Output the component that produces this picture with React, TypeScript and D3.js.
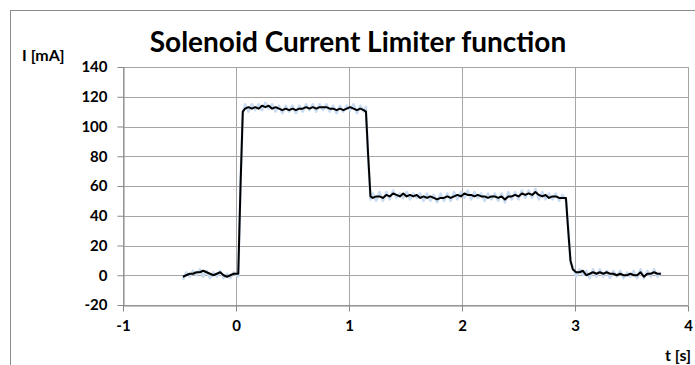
import React, { useEffect, useRef } from 'react';
import * as d3 from 'd3';

// time axis (s), filtered (black) and raw (light blue) current in mA
const times = [
  -0.47, -0.44, -0.41, -0.38, -0.35, -0.32, -0.29, -0.26, -0.23, -0.2, -0.17, -0.14, -0.11, -0.08, -0.05, -0.02, 0.02,
  0.04, 0.06, 0.08,
  0.11, 0.14, 0.17, 0.2, 0.23, 0.26, 0.29, 0.32, 0.35, 0.38, 0.41, 0.44, 0.47, 0.5, 0.53, 0.56, 0.59, 0.62, 0.65, 0.68,
  0.71, 0.74, 0.77, 0.8, 0.83, 0.86, 0.89, 0.92, 0.95, 0.98, 1.01, 1.04, 1.07, 1.1, 1.13, 1.15,
  1.17, 1.19,
  1.21, 1.24, 1.27, 1.3, 1.33, 1.36, 1.39, 1.42, 1.45, 1.48, 1.51, 1.54, 1.57, 1.6, 1.63, 1.66, 1.69, 1.72, 1.75, 1.78,
  1.81, 1.84, 1.87, 1.9, 1.93, 1.96, 1.99, 2.02, 2.05, 2.08, 2.11, 2.14, 2.17, 2.2, 2.23, 2.26, 2.29, 2.32, 2.35, 2.38,
  2.41, 2.44, 2.47, 2.5, 2.53, 2.56, 2.59, 2.62, 2.65, 2.68, 2.71, 2.74, 2.77, 2.8, 2.83, 2.86, 2.89, 2.92,
  2.94, 2.96, 2.98,
  3.01, 3.04, 3.07, 3.1, 3.13, 3.16, 3.19, 3.22, 3.25, 3.28, 3.31, 3.34, 3.37, 3.4, 3.43, 3.46, 3.49, 3.52, 3.55, 3.58,
  3.61, 3.64, 3.67, 3.7, 3.73, 3.76
];

const filtered = [
  -1, 0, 1, 1, 2, 2, 3, 2, 1, 0, 1, 2, 0, -1, 0, 1, 1,
  60, 110, 112,
  113, 112, 113, 112, 114, 113, 114, 112, 113, 112, 111, 112, 111, 112, 111, 112, 112, 113, 112, 113,
  112, 113, 113, 113, 112, 112, 111, 112, 111, 112, 113, 112, 111, 112, 111, 110,
  80, 53,
  52, 53, 53, 52, 54, 53, 55, 54, 53, 55, 53, 54, 53, 54, 52, 53, 52, 53, 52, 51,
  52, 52, 53, 52, 53, 54, 53, 55, 54, 54, 53, 54, 53, 53, 52, 53, 53, 52, 53, 51,
  53, 53, 54, 53, 55, 54, 55, 54, 56, 54, 53, 54, 52, 53, 53, 52, 52, 52,
  30, 10, 4,
  2, 2, 3, 0, 1, 2, 1, 2, 1, 2, 1, 1, 0, 1, 0, 0, 1, 0, 0, 2,
  -1, 1, 1, 2, 1, 1
];

const raw = [
  -3, 2, -1, 3, 0, 4, -1, 3, -2, 2, -1, 3, -2, 1, -2, 2, -1,
  62, 108, 115,
  110, 115, 111, 115, 111, 116, 112, 115, 110, 114, 109, 114, 110, 114, 109, 114, 110, 115, 111, 115,
  110, 115, 111, 115, 110, 114, 109, 114, 110, 114, 111, 115, 109, 114, 110, 113,
  78, 51,
  55, 50, 56, 50, 56, 51, 57, 52, 55, 52, 56, 51, 55, 52, 55, 50, 55, 50, 54, 49,
  55, 50, 55, 50, 56, 51, 56, 52, 57, 51, 56, 52, 55, 50, 55, 51, 55, 50, 55, 49,
  56, 51, 56, 51, 57, 52, 57, 52, 58, 51, 56, 51, 55, 51, 55, 50, 54, 50,
  32, 8, 6,
  -1, 4, 0, 3, -2, 4, -1, 4, -1, 3, -2, 3, -1, 3, -2, 2, -1, 3, -2, 4,
  -2, 3, -1, 4, -1, 2
];

const xTicks = [-1, 0, 1, 2, 3, 4];
const yTicks = [-20, 0, 20, 40, 60, 80, 100, 120, 140];

const W = 695, H = 365;
const left = 123, right = 688, top = 67, bottom = 305;
const font = 'Lato, "Open Sans", sans-serif';

export default function App() {
  const ref = useRef<SVGSVGElement>(null);

  useEffect(() => {
    document.body.style.margin = '0';
    const svg = d3.select(ref.current);
    svg.selectAll('*').remove();

    const x = d3.scaleLinear().domain([-1, 4]).range([left, right]);
    const y = d3.scaleLinear().domain([-20, 140]).range([bottom, top]);

    svg.append('rect').attr('width', W).attr('height', H).attr('fill', '#fff');
    // chart frame (runs off the picture to the right and bottom)
    svg.append('rect')
      .attr('x', 10.5).attr('y', 10.5).attr('width', 720).attr('height', 400)
      .attr('fill', 'none').attr('stroke', '#8c8c8c').attr('stroke-width', 1);

    // gridlines
    svg.append('g').selectAll('line').data(yTicks).enter().append('line')
      .attr('x1', left).attr('x2', right)
      .attr('y1', d => Math.round(y(d)) + 0.5).attr('y2', d => Math.round(y(d)) + 0.5)
      .attr('stroke', '#a6a6a6');
    svg.append('g').selectAll('line').data(xTicks).enter().append('line')
      .attr('y1', top).attr('y2', bottom)
      .attr('x1', d => Math.round(x(d)) + 0.5).attr('x2', d => Math.round(x(d)) + 0.5)
      .attr('stroke', '#a6a6a6');

    // axes
    const yAxis = svg.append('g')
      .attr('transform', `translate(${left + 0.5},0)`)
      .call(d3.axisLeft(y).tickValues(yTicks).tickSize(6).tickPadding(10).tickSizeOuter(0)
        .tickFormat(d => String(d)));
    const xAxis = svg.append('g')
      .attr('transform', `translate(0,${Math.round(bottom) + 0.5})`)
      .call(d3.axisBottom(x).tickValues(xTicks).tickSize(6).tickPadding(9).tickSizeOuter(0)
        .tickFormat(d => String(d)));
    [yAxis, xAxis].forEach(a => {
      a.selectAll('path,line').attr('stroke', '#868686');
      a.selectAll('text').attr('fill', '#000').attr('font-family', font)
        .attr('font-size', 15).attr('font-weight', 'bold');
    });

    const pts = (vals: number[]) => times.map((t, i) => [t, vals[i]] as [number, number]);
    const line = d3.line<[number, number]>().x(d => x(d[0])).y(d => y(d[1]));

    svg.append('path').datum(pts(raw)).attr('d', line)
      .attr('fill', 'none').attr('stroke', '#c9dcf2').attr('stroke-width', 2.5)
      .attr('stroke-linejoin', 'round');
    svg.append('path').datum(pts(filtered)).attr('d', line)
      .attr('fill', 'none').attr('stroke', '#000').attr('stroke-width', 2)
      .attr('stroke-linejoin', 'round');

    svg.append('text').attr('x', 358).attr('y', 52).attr('text-anchor', 'middle')
      .attr('font-family', font).attr('font-size', 28).attr('font-weight', 'bold')
      .text('Solenoid Current Limiter function');
    svg.append('text').attr('x', 22).attr('y', 61)
      .attr('font-family', font).attr('font-size', 16).attr('font-weight', 'bold')
      .text('I [mA]');
    svg.append('text').attr('x', 691).attr('y', 361).attr('text-anchor', 'end')
      .attr('font-family', font).attr('font-size', 16).attr('font-weight', 'bold')
      .text('t [s]');
  }, []);

  return <svg ref={ref} width={W} height={H} style={{ display: 'block' }} />;
}
